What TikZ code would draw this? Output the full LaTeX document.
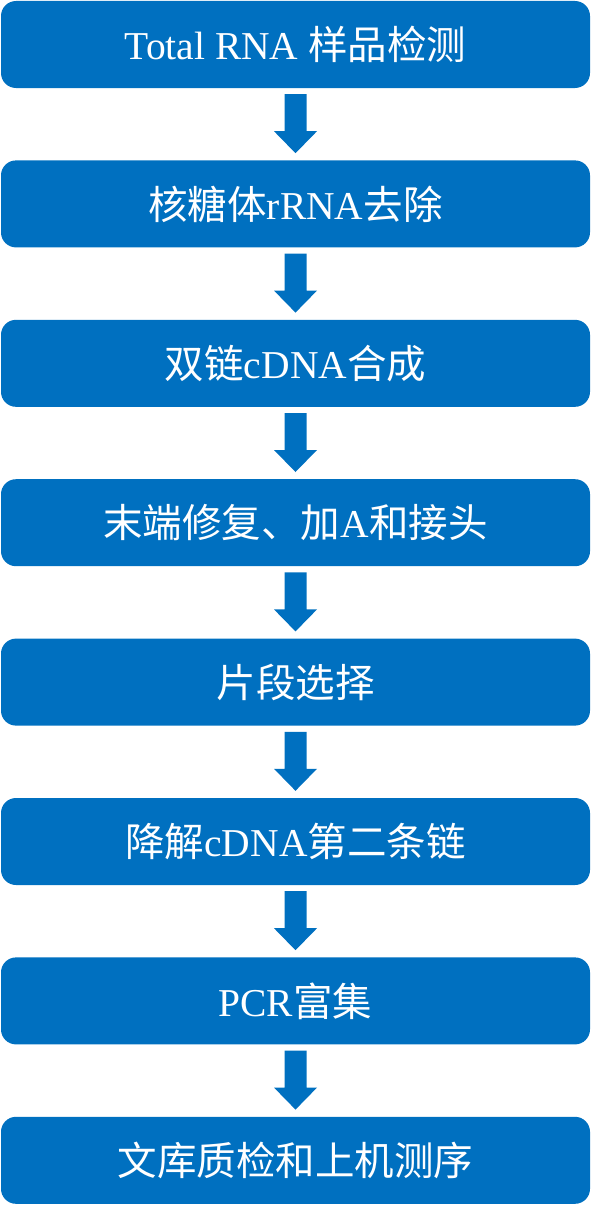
\documentclass[tikz,border=0pt]{standalone}
\usepackage{fontspec}
\setmainfont{Liberation Serif}
\newfontfamily\cjk{Noto Sans CJK SC}
\usetikzlibrary{positioning}
\definecolor{flowblue}{HTML}{0070C0}
\tikzset{
  stepbox/.style={fill=flowblue, text=white, rounded corners=15pt,
    minimum width=589pt, minimum height=87pt, inner sep=0pt,
    font=\fontsize{39.5}{44}\selectfont},
  flowarrow/.style={fill=flowblue}
}
\begin{document}
\begin{tikzpicture}
\useasboundingbox (0,0) rectangle (591pt,-1207pt);
\node [stepbox] (s1) at (295.5pt,-44.5pt) {Total RNA {\cjk 样品检测}};
\node [stepbox, below=72pt of s1] (s2) {{\cjk 核糖体}rRNA{\cjk 去除}};
\node [stepbox, below=72pt of s2] (s3) {{\cjk 双链}cDNA{\cjk 合成}};
\node [stepbox, below=72pt of s3] (s4) {{\cjk 末端修复、加}A{\cjk 和接头}};
\node [stepbox, below=72pt of s4] (s5) {{\cjk 片段选择}};
\node [stepbox, below=72pt of s5] (s6) {{\cjk 降解}cDNA{\cjk 第二条链}};
\node [stepbox, below=72pt of s6] (s7) {PCR{\cjk 富集}};
\node [stepbox, below=72pt of s7] (s8) {{\cjk 文库质检和上机测序}};
% block arrows between the steps
\foreach \i [evaluate=\i as \j using int(\i+1)] in {1,...,7}{
  \fill [flowarrow] ([xshift=-11pt,yshift=-6pt]s\i.south) -- ([xshift=11pt,yshift=-6pt]s\i.south)
    -- ([xshift=11pt,yshift=-43pt]s\i.south) -- ([xshift=21.5pt,yshift=-43pt]s\i.south)
    -- ([yshift=7pt]s\j.north) -- ([xshift=-21.5pt,yshift=-43pt]s\i.south)
    -- ([xshift=-11pt,yshift=-43pt]s\i.south) -- cycle;
}
\end{tikzpicture}
\end{document}
